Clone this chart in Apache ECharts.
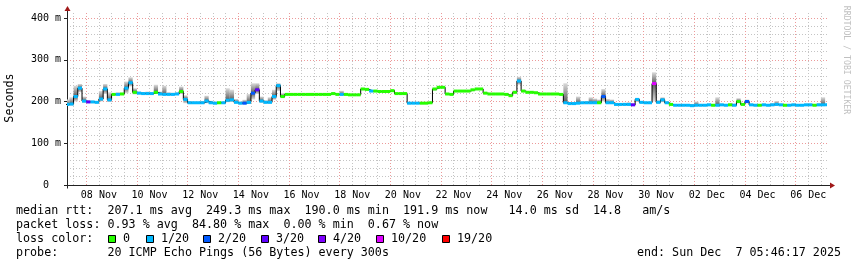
<!DOCTYPE html>
<html><head><meta charset="utf-8">
<script src="https://cdn.jsdelivr.net/npm/echarts@6/dist/echarts.min.js"></script>
<style>html,body{margin:0;padding:0;background:#fff}#c{width:857px;height:267px}</style>
</head><body><div id="c"></div>
<script>
// ---- time frame ----
const START = Date.UTC(2025, 10, 7, 5, 46, 17);
const END = Date.UTC(2025, 11, 7, 5, 46, 17);
const BIN0 = Date.UTC(2025, 10, 7, 4, 0, 0);
const STEP = 4 * 3600 * 1000;

// ---- median rtt (ms) per 4h bin ----
const median = [
193,194,212,232,201,199,199,198,206,230,
204,217,217,218,232,245,222,220,219,219,
219,222,218,217,217,217,218,224,205,197,
197,197,197,201,197,196,197,197,203,204,
198,196,196,198,220,228,201,198,198,212,
238,212,217,217,217,217,217,217,217,217,
217,217,217,219,217,217,217,216,216,216,
230,229,225,225,224,224,224,226,219,219,
219,196,196,196,196,196,197,230,234,234,
218,217,225,225,225,225,228,230,230,220,
218,218,218,218,217,214,222,249,225,222,
222,221,218,218,218,218,218,217,197,195,
195,196,197,197,197,197,197,212,197,197,
193,193,193,193,192,205,198,197,197,243,
198,204,197,193,191,191,191,191,190,191,
191,191,192,191,191,192,191,192,191,200,
193,200,192,191,191,192,191,192,193,192,
191,191,192,191,191,192,192,191,192,192,
192];

// ---- packet loss (pings lost out of 20) per bin ----
const loss = [
1,1,1,1,1,3,1,1,1,1,
1,0,1,0,1,1,0,1,1,1,
1,0,1,1,1,1,1,0,1,1,
1,1,1,1,1,1,0,1,1,1,
1,1,2,1,2,3,1,1,1,1,
1,0,0,0,0,0,0,0,0,0,
0,0,0,0,0,1,0,0,0,0,
0,0,1,0,0,0,0,0,0,0,
0,1,1,1,0,0,0,0,0,0,
0,0,0,0,0,0,0,0,0,0,
0,0,0,0,0,0,0,1,0,0,
0,0,0,0,0,0,0,0,1,1,
1,1,1,1,1,1,0,2,1,1,
1,1,1,1,3,1,1,1,1,10,
1,1,1,0,1,1,1,1,1,1,
1,1,1,0,1,1,1,0,1,0,
0,2,1,1,0,1,1,1,1,1,
0,1,1,1,1,1,1,0,1,1,
1];

// ---- smoke extent (ms) per bin ----
const smokeHi = [
205,210,238,242,212,203,202,201,225,242,
222,220,222,221,248,258,232,224,222,224,
222,240,224,238,222,221,222,236,215,201,
200,200,201,214,202,200,200,200,232,228,
206,200,204,218,244,244,212,203,210,228,
244,220,218,218,218,218,218,218,218,218,
218,218,218,221,218,226,218,217,217,217,
231,230,227,226,225,225,225,228,220,220,
220,199,198,198,198,198,199,231,235,235,
219,218,226,226,226,226,229,231,231,221,
219,219,219,219,218,215,226,259,228,223,
223,222,219,219,219,219,219,218,244,199,
199,212,200,201,210,207,205,230,206,205,
196,196,197,198,196,208,201,200,200,270,
203,210,200,195,194,194,194,193,194,200,
194,194,195,194,210,195,194,196,195,208,
196,205,195,194,194,195,194,196,201,195,
194,194,195,194,194,195,195,194,196,210,
195];
const smokeLo = [
189,190,200,222,197,196,196,195,200,218,
199,216,215,216,220,236,217,217,216,216,
216,218,215,215,215,215,216,218,196,194,
194,194,194,196,194,193,194,194,198,199,
195,193,193,194,205,218,197,195,195,204,
225,208,216,216,216,216,216,216,216,216,
216,216,216,217,216,214,216,215,215,215,
227,227,223,224,223,223,223,224,218,218,
218,193,194,194,195,195,196,226,233,233,
216,216,224,224,224,224,226,229,229,218,
217,217,217,217,216,212,219,240,223,221,
221,220,217,217,217,217,217,216,194,193,
193,194,195,195,195,195,196,200,195,195,
190,190,190,190,189,199,195,195,195,200,
195,198,194,191,189,189,189,189,188,189,
189,189,190,190,189,190,189,190,189,195,
190,195,190,189,190,190,189,190,190,190,
190,189,190,189,190,190,190,190,190,190,
190];

// ---- legend / labels ----
const lossLevels = [0, 1, 2, 3, 4, 10, 19];
const lossLabels = ['0', '1/20', '2/20', '3/20', '4/20', '10/20', '19/20'];
const lossColors = ['#26ff00', '#00b8ff', '#0059ff', '#5e00ff', '#7e00ff', '#dd00ff', '#ff0000'];
const xTickLabels = ['08 Nov','10 Nov','12 Nov','14 Nov','16 Nov','18 Nov','20 Nov','22 Nov','24 Nov','26 Nov','28 Nov','30 Nov','02 Dec','04 Dec','06 Dec'];
const yTickValues = [0, 100, 200, 300, 400];
const statsLines = [
  'median rtt:  207.1 ms avg  249.3 ms max  190.0 ms min  191.9 ms now   14.0 ms sd  14.8   am/s',
  'packet loss: 0.93 % avg  84.80 % max  0.00 % min  0.67 % now',
  'loss color:',
  'probe:       20 ICMP Echo Pings (56 Bytes) every 300s'
];
const endText = 'end: Sun Dec  7 05:46:17 2025';
const unitText = 'Seconds';
const watermark = 'RRDTOOL / TOBI OETIKER';

// ---- derived structures ----
const DAY = 86400000;
const binTimes = median.map((_, i) => BIN0 + i * STEP);
const medData = median.map((v, i) => [binTimes[i], v, lossLevels.indexOf(loss[i])]);
const smokeData = median.map((v, i) => [binTimes[i], smokeLo[i], v, smokeHi[i]]);
const lineData = median.map((v, i) => [binTimes[i], v]);
const xLabelTimes = xTickLabels.map((_, i) => Date.UTC(2025, 10, 8 + 2 * i, 12));
const majorX = xTickLabels.map((_, i) => Date.UTC(2025, 10, 8 + 2 * i));
const minorX = [];
for (let t = Date.UTC(2025, 10, 7, 12); t < END; t += DAY / 2) if (!majorX.includes(t)) minorX.push(t);
const majorY = [100, 200, 300, 400];
const minorY = [];
for (let v = 20; v <= 400; v += 20) if (v % 100) minorY.push(v);

const FONT = '"DejaVu Sans Mono", monospace';
const MAJ = { color: '#ec9a9a', width: 1, type: [1, 2] };
const MIN = { color: '#c4c4c4', width: 1, type: [1, 2] };

const chart = echarts.init(document.getElementById('c'), null, { renderer: 'canvas' });

function clipTo(cs, r) {
  return echarts.graphic.clipRectByRect(r, { x: cs.x, y: cs.y, width: cs.width, height: cs.height });
}

const option = {
  animation: false,
  backgroundColor: '#ffffff',
  grid: { left: 67, top: 13, width: 760, height: 172, containLabel: false },
  xAxis: {
    type: 'value', min: START, max: END,
    splitLine: { show: false },
    axisTick: { show: false },
    axisLine: { lineStyle: { color: '#222', width: 1 } },
    axisLabel: {
      customValues: xLabelTimes, margin: 5,
      fontFamily: FONT, fontSize: 10, color: '#000',
      formatter: v => { const k = xLabelTimes.indexOf(v); return k >= 0 ? xTickLabels[k] : ''; }
    }
  },
  yAxis: {
    type: 'value', min: 0, max: 412, interval: 100,
    splitLine: { show: false },
    axisLine: { show: true, lineStyle: { color: '#222', width: 1 } },
    axisTick: { show: true, customValues: yTickValues, length: 3, lineStyle: { color: '#222' } },
    axisLabel: {
      customValues: yTickValues, margin: 6,
      fontFamily: FONT, fontSize: 10, color: '#000',
      formatter: v => v === 0 ? '0  ' : v + ' m'
    }
  },
  series: [
    {
      type: 'line', data: [], z: 0, silent: true,
      markLine: {
        z: 0, silent: true, symbol: ['none', 'none'], label: { show: false }, animation: false,
        data: [
          ...minorX.map(t => ({ xAxis: t, lineStyle: MIN })),
          ...minorY.map(v => ({ yAxis: v, lineStyle: MIN })),
          ...majorX.map(t => ({ xAxis: t, lineStyle: MAJ })),
          ...majorY.map(v => ({ yAxis: v, lineStyle: MAJ }))
        ]
      }
    },
    {
      type: 'custom', z: 1, silent: true, data: smokeData,
      renderItem: (params, api) => {
        const t = api.value(0), lo = api.value(1), md = api.value(2), hi = api.value(3);
        const a = api.coord([t, hi]), b = api.coord([t + STEP, md]), c = api.coord([t, lo]);
        const cs = params.coordSys;
        const up = clipTo(cs, { x: a[0], y: a[1], width: b[0] - a[0], height: b[1] - a[1] });
        const dn = clipTo(cs, { x: a[0], y: b[1], width: b[0] - a[0], height: c[1] - b[1] });
        const kids = [];
        if (up) kids.push({ type: 'rect', shape: up, style: { fill: new echarts.graphic.LinearGradient(0, 0, 0, 1, [{ offset: 0, color: '#dcdcdc' }, { offset: 1, color: '#5a5a5a' }]) } });
        if (dn) kids.push({ type: 'rect', shape: dn, style: { fill: new echarts.graphic.LinearGradient(0, 0, 0, 1, [{ offset: 0, color: '#5a5a5a' }, { offset: 1, color: '#dcdcdc' }]) } });
        return { type: 'group', children: kids };
      }
    },
    {
      type: 'line', z: 2, data: lineData, step: 'end', showSymbol: false, clip: true, silent: true,
      lineStyle: { color: '#000', width: 1 }
    },
    {
      type: 'custom', z: 3, silent: true, data: medData,
      renderItem: (params, api) => {
        const t = api.value(0), v = api.value(1), li = api.value(2);
        const p0 = api.coord([t, v]), p1 = api.coord([t + STEP, v]);
        const r = clipTo(params.coordSys, { x: p0[0], y: p0[1] - 1.5, width: p1[0] - p0[0], height: 3 });
        return r ? { type: 'rect', shape: r, style: { fill: lossColors[li] } } : null;
      }
    }
  ]
};
chart.setOption(option);

// ---- text block, legend boxes, arrows ----
const g = [];
const lineY = [211, 225, 239, 253];
statsLines.forEach((s, i) => g.push({ type: 'text', x: 16, y: lineY[i], style: { text: s, font: '11.7px ' + FONT, fill: '#000', verticalAlign: 'middle' } }));
const boxX = [108, 146, 203, 261, 318, 376, 442];
lossLabels.forEach((s, i) => {
  g.push({ type: 'rect', shape: { x: boxX[i] + 0.5, y: 235.5, width: 7, height: 7 }, style: { fill: lossColors[i], stroke: '#000', lineWidth: 1 } });
  g.push({ type: 'text', x: boxX[i] + 15, y: 239, style: { text: s, font: '11.7px ' + FONT, fill: '#000', verticalAlign: 'middle' } });
});
g.push({ type: 'text', x: 841, y: 253, style: { text: endText, font: '11.7px ' + FONT, fill: '#000', align: 'right', verticalAlign: 'middle' } });
g.push({ type: 'text', x: 10, y: 98, rotation: Math.PI / 2, style: { text: unitText, font: '11.7px ' + FONT, fill: '#000', align: 'center', verticalAlign: 'middle' } });
g.push({ type: 'text', x: 846, y: 60, rotation: -Math.PI / 2, style: { text: watermark, font: '8.2px ' + FONT, fill: '#c0c0c0', align: 'center', verticalAlign: 'middle' } });
const o = chart.convertToPixel({ gridIndex: 0 }, [START, 0]);
const e = chart.convertToPixel({ gridIndex: 0 }, [END, 412]);
const ax = Math.round(o[0]) + 0.5, ay = Math.round(o[1]) + 0.5;
g.push({ type: 'line', shape: { x1: e[0], y1: ay, x2: e[0] + 4, y2: ay }, style: { stroke: '#222', lineWidth: 1 } });
g.push({ type: 'polygon', shape: { points: [[e[0] + 3, ay - 3], [e[0] + 8, ay], [e[0] + 3, ay + 3]] }, style: { fill: '#a01818' } });
g.push({ type: 'line', shape: { x1: ax, y1: e[1], x2: ax, y2: e[1] - 2 }, style: { stroke: '#222', lineWidth: 1 } });
g.push({ type: 'polygon', shape: { points: [[ax - 3, e[1] - 2], [ax, e[1] - 7], [ax + 3, e[1] - 2]] }, style: { fill: '#a01818' } });
g.push({ type: 'line', shape: { x1: ax, y1: ay, x2: ax, y2: ay + 3 }, style: { stroke: '#222', lineWidth: 1 } });
chart.setOption({ graphic: g });
</script>
</body></html>
